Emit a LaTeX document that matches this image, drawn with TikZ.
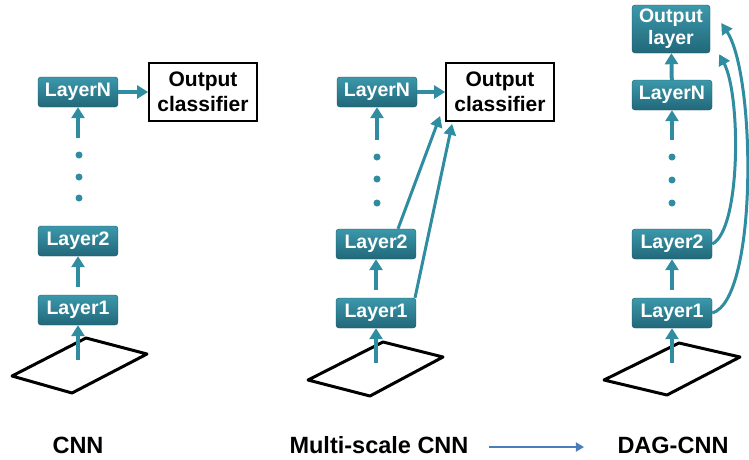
\documentclass[tikz,border=0pt]{standalone}
\usepackage{fontspec}
\setmainfont{Liberation Sans}
\usetikzlibrary{arrows.meta}
\definecolor{tealA}{HTML}{3C98AB}
\definecolor{tealB}{HTML}{21687A}
\definecolor{tealLine}{HTML}{2F8CA1}
\definecolor{navyArrow}{HTML}{4A7EBB}
\tikzset{
  x=1pt, y=-1pt,
  layerbox/.style={rounded corners=3pt, top color=tealA, bottom color=tealB,
    draw=tealB!80!black, line width=0.4pt, text=white,
    font=\fontsize{19.5}{22}\selectfont\bfseries,
    minimum width=80pt, minimum height=30pt, inner sep=0pt, align=center},
  outbox/.style={draw=black, line width=1.8pt, fill=white, text=black,
    font=\fontsize{21}{25}\selectfont\bfseries,
    minimum width=108pt, minimum height=58pt, inner sep=0pt, align=center},
  flow/.style={draw=tealLine, line width=4pt,
    -{Triangle[length=11pt,width=13pt]}},
  skip/.style={draw=tealLine, line width=3pt,
    -{Triangle[length=11pt,width=12pt]}},
  dotmark/.style={circle, fill=tealLine, inner sep=0pt, minimum size=7pt},
  plane/.style={draw=black, line width=3pt, line join=round},
  caption/.style={font=\fontsize{23.5}{26}\selectfont\bfseries, text=black}
}
\begin{document}
\begin{tikzpicture}
\useasboundingbox (0,0) rectangle (749,459);

% ---------- plain CNN ----------
\draw[plane] (12,376) -- (86,338) -- (147,354) -- (72,393) -- cycle;
\node[layerbox] (c1) at (78,310) {Layer1};
\node[layerbox] (c2) at (78,241) {Layer2};
\node[layerbox] (cN) at (78,92) {LayerN};
\node[outbox] (cout) at (203,92) {Output\\classifier};
\node[dotmark] (cd1) at (79,155) {};
\node[dotmark] (cd2) at (79,177) {};
\node[dotmark] (cd3) at (79,198) {};
\coordinate (cin) at (78,360);
\coordinate (ctop) at (78,138);
\draw[flow] (cin) -- (c1);
\draw[flow, shorten <=8pt] (c1) -- (c2);
\draw[flow] (ctop) -- (cN);
\draw[flow] (cN) -- (cout);

% ---------- multi-scale CNN ----------
\draw[plane] (308,380) -- (383,342) -- (443,357) -- (370,396) -- cycle;
\node[layerbox] (m1) at (376,313) {Layer1};
\node[layerbox] (m2) at (376,244) {Layer2};
\node[layerbox] (mN) at (377,92) {LayerN};
\node[outbox] (mout) at (500,92) {Output\\classifier};
\node[dotmark] (md1) at (377,157) {};
\node[dotmark] (md2) at (377,179) {};
\node[dotmark] (md3) at (377,203) {};
\coordinate (min) at (376,363);
\coordinate (mtop) at (377,140);
\draw[flow] (min) -- (m1);
\draw[flow, shorten <=8pt] (m1) -- (m2);
\draw[flow] (mtop) -- (mN);
\draw[flow] (mN) -- (mout);
\draw[skip] ([xshift=22pt]m2.north) -- ([xshift=-5pt,yshift=6pt]mout.south west);
\draw[skip] ([xshift=39pt]m1.north) -- ([xshift=7pt,yshift=-2pt]mout.south west);

% ---------- DAG-CNN ----------
\draw[plane] (604,380) -- (679,343) -- (740,357) -- (667,395) -- cycle;
\node[layerbox] (d1) at (672,313) {Layer1};
\node[layerbox] (d2) at (672,244) {Layer2};
\node[layerbox] (dN) at (672,95) {LayerN};
\node[layerbox, minimum width=78pt, minimum height=48pt] (dout) at (671,29) {Output\\layer};
\node[dotmark] (dd1) at (672,157) {};
\node[dotmark] (dd2) at (672,180) {};
\node[dotmark] (dd3) at (672,203) {};
\coordinate (din) at (672,363);
\coordinate (dtop) at (672,140);
\draw[flow] (din) -- (d1);
\draw[flow, shorten <=8pt] (d1) -- (d2);
\draw[flow] (dtop) -- (dN);
\draw[flow] (dN) -- (dout);
\draw[skip] (d2.east) .. controls (741,230) and (741,95) .. ([xshift=9pt,yshift=-1pt]dout.south east);
\draw[skip] (d1.east) .. controls (758,300) and (756,75) .. ([xshift=11pt,yshift=6pt]dout.east);

% ---------- captions ----------
\node[caption] (lcnn) at (78,445) {CNN};
\node[caption] (lms) at (379,445) {Multi-scale CNN};
\node[caption] (ldag) at (673,445) {DAG-CNN};
\draw[navyArrow, line width=1.8pt, -{Triangle[length=8pt,width=9pt]},
  shorten <=17pt, shorten >=30pt] ([yshift=-2pt]lms.east) -- ([yshift=-2pt]ldag.west);
\end{tikzpicture}
\end{document}
